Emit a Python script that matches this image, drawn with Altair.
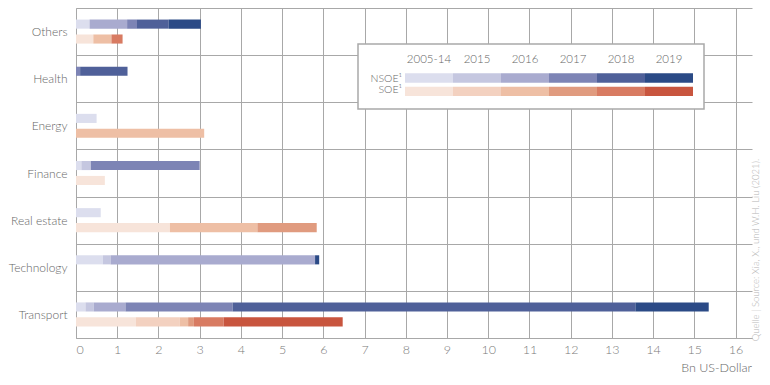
import altair as alt
import pandas as pd

# ---------------- data ----------------
categories = ["Others", "Health", "Energy", "Finance", "Real estate", "Technology", "Transport"]
years = ["2005-14", "2015", "2016", "2017", "2018", "2019"]
types = ["NSOE", "SOE"]
type_labels = ["NSOE\u00b9", "SOE\u00b9"]

# yearly investment (Bn US-Dollar), per category, one value per year
nsoe_others = [0.33, 0.0, 0.91, 0.24, 0.77, 0.78]
nsoe_health = [0.0, 0.0, 0.0, 0.10, 1.15, 0.0]
nsoe_energy = [0.50, 0.0, 0.0, 0.0, 0.0, 0.0]
nsoe_finance = [0.13, 0.23, 0.0, 2.64, 0.0, 0.0]
nsoe_realestate = [0.60, 0.0, 0.0, 0.0, 0.0, 0.0]
nsoe_technology = [0.65, 0.19, 4.96, 0.0, 0.0, 0.10]
nsoe_transport = [0.23, 0.20, 0.77, 2.60, 9.77, 1.78]

soe_others = [0.42, 0.0, 0.44, 0.0, 0.27, 0.0]
soe_health = [0.0, 0.0, 0.0, 0.0, 0.0, 0.0]
soe_energy = [0.0, 0.0, 3.11, 0.0, 0.0, 0.0]
soe_finance = [0.70, 0.0, 0.0, 0.0, 0.0, 0.0]
soe_realestate = [2.28, 0.0, 2.12, 1.44, 0.0, 0.0]
soe_technology = [0.0, 0.0, 0.0, 0.0, 0.0, 0.0]
soe_transport = [1.45, 1.07, 0.20, 0.14, 0.72, 2.89]

nsoe_values = [nsoe_others, nsoe_health, nsoe_energy, nsoe_finance,
               nsoe_realestate, nsoe_technology, nsoe_transport]
soe_values = [soe_others, soe_health, soe_energy, soe_finance,
              soe_realestate, soe_technology, soe_transport]

nsoe_colors = ["#dcdeee", "#c5c7e0", "#a9abcf", "#7d84b5", "#4f6099", "#2b4a86"]
soe_colors = ["#f7e4da", "#f3d1c0", "#eebfa5", "#e09b7f", "#d87b62", "#c8553e"]

x_ticks = list(range(0, 17))
x_title = "Bn US-Dollar"
source_text = "Quelle | Source: Xia, X., und W.H. Liu (2021)."

# ---------------- tables ----------------
keys = [f"NSOE {y}" for y in years] + [f"SOE {y}" for y in years]
colors = nsoe_colors + soe_colors

rows = []
for ci, cat in enumerate(categories):
    for t, vals in (("NSOE", nsoe_values[ci]), ("SOE", soe_values[ci])):
        for yi, (yr, v) in enumerate(zip(years, vals)):
            if v > 0:
                rows.append(dict(category=cat, type=t, year=yr, yi=yi,
                                 value=v, key=f"{t} {yr}"))
df = pd.DataFrame(rows)

leg_rows = []
for ti, t in enumerate(types):
    for i, yr in enumerate(years):
        leg_rows.append(dict(type=t, i0=i, i1=i + 1, key=f"{t} {yr}"))
leg_df = pd.DataFrame(leg_rows)
head_df = pd.DataFrame({"year": years, "c": [i + 0.5 for i in range(len(years))]})
lab_df = pd.DataFrame({"type": types, "label": type_labels})
one = pd.DataFrame({"a": [0]})

W = 676
H = 330
FONT = "Lato"
color_scale = alt.Scale(domain=keys, range=colors)

# ---------------- main bars ----------------
bars = alt.Chart(df).transform_stack(
    stack="value", groupby=["category", "type"], as_=["x0", "x1"],
    sort=[alt.SortField("yi", order="ascending")]
).mark_bar(cornerRadius=0).encode(
    x=alt.X("x0:Q", scale=alt.Scale(domain=[0, 16.4], nice=False, zero=True),
            axis=alt.Axis(values=x_ticks, grid=True, ticks=False, domain=True,
                          labelColor="#7a7a7a", labelFontSize=12.5, labelPadding=5,
                          labelFont=FONT, labelFontWeight=300, title=None,
                          gridColor="#a8a8a8", domainColor="#a8a8a8")),
    x2="x1:Q",
    y=alt.Y("category:N", sort=categories,
            scale=alt.Scale(domain=categories, paddingInner=0, paddingOuter=0),
            axis=alt.Axis(tickBand="extent", grid=True, ticks=False, domain=True,
                          labelColor="#666666", labelFontSize=12, labelPadding=9,
                          labelFont=FONT, labelFontWeight=300, title=None,
                          gridColor="#a8a8a8", domainColor="#a8a8a8")),
    yOffset=alt.YOffset("type:N", scale=alt.Scale(domain=types, paddingInner=0.39,
                                                   paddingOuter=0.775)),
    color=alt.Color("key:N", scale=color_scale, legend=None),
)

# ---------------- custom legend ----------------
box = alt.Chart(one).mark_rect(fill="white", stroke="#a9a9a9", strokeWidth=1.5).encode(
    x=alt.value(282), x2=alt.value(628), y=alt.value(36), y2=alt.value(101)
)

leg_x = alt.Scale(domain=[0, 6], range=[329, 617], nice=False, zero=False)
leg_y = alt.Scale(domain=types, range=[65.3, 88.1], paddingInner=0.3, paddingOuter=0)

strips = alt.Chart(leg_df).mark_rect().encode(
    x=alt.X("i0:Q", scale=leg_x, axis=None),
    x2="i1:Q",
    y=alt.Y("type:N", scale=leg_y, axis=None),
    color=alt.Color("key:N", scale=color_scale, legend=None),
)

heads = alt.Chart(head_df).mark_text(font=FONT, fontWeight=300, fontSize=11.5,
                                     color="#666666", align="center",
                                     baseline="middle").encode(
    x=alt.X("c:Q", scale=leg_x, axis=None),
    y=alt.value(52),
    text="year:N",
)

labels = alt.Chart(lab_df).mark_text(font=FONT, fontWeight=300, fontSize=10.5,
                                     color="#666666", align="right",
                                     baseline="middle").encode(
    x=alt.value(326),
    y=alt.Y("type:N", scale=leg_y, axis=None),
    text="label:N",
)

xtitle = alt.Chart(one).mark_text(font=FONT, fontWeight=300, fontSize=12.5,
                                  color="#666666", align="right",
                                  baseline="bottom").encode(
    x=alt.value(W), y=alt.value(H + 37), text=alt.value(x_title)
)

source = alt.Chart(one).mark_text(font=FONT, fontWeight=300, fontSize=9.5,
                                  color="#b5b5b5", align="center", angle=270,
                                  baseline="middle").encode(
    x=alt.value(W + 4), y=alt.value(242), text=alt.value(source_text)
)

chart = alt.layer(bars, box, strips, heads, labels, xtitle, source).resolve_scale(
    x="independent", y="independent", color="independent"
).properties(
    width=W, height=H,
    autosize=alt.AutoSizeParams(type="none"),
    padding={"left": 68, "top": 0, "right": 10, "bottom": 38},
).configure_view(stroke=None)

chart.save("out.html", embed_options={"renderer": "svg", "actions": False})
